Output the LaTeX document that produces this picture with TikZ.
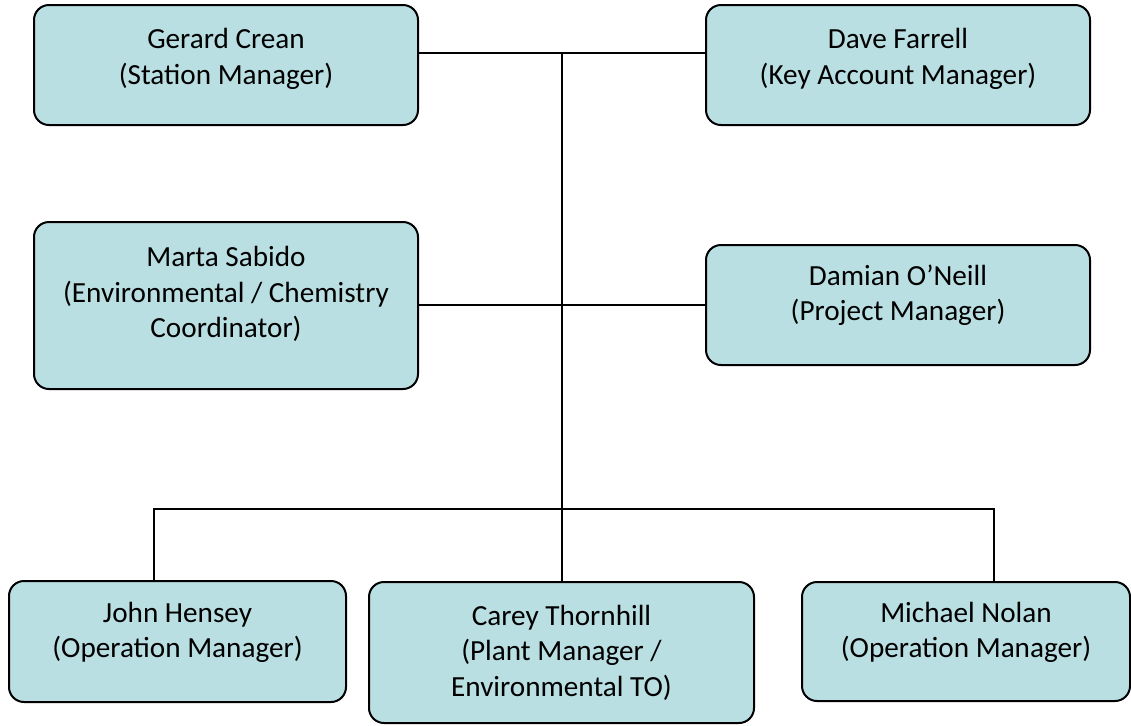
\documentclass[tikz,border=0pt]{standalone}
\usepackage{fontspec}
\setmainfont{Carlito}
\usetikzlibrary{positioning}
\definecolor{boxfill}{HTML}{B9DFE3}
\tikzset{
  person/.style={draw=black, line width=1pt, fill=boxfill, rounded corners=7.5pt,
    align=center, inner sep=0pt, font=\fontsize{14.6}{17.75}\selectfont},
  lift/.style={text depth=#1},
  link/.style={line width=1pt}
}
\begin{document}
\begin{tikzpicture}[x=0.5pt, y=-0.5pt]
        \useasboundingbox (0,0) rectangle (1131,725);

        % top row
        \node[person, lift=8.5pt, minimum width=192pt, minimum height=60pt] (gerard) at (226,65) {Gerard Crean\\(Station Manager)};
        \node[person, lift=8.5pt, minimum width=192pt, minimum height=60pt] (dave) at (898,65) {Dave Farrell\\(Key Account Manager)};

        % middle row
        \node[person, lift=13.5pt, minimum width=192pt, minimum height=83.5pt] (marta) at (226,305.5) {Marta Sabido\\(Environmental / Chemistry\\Coordinator)};
        \node[person, lift=12.5pt, minimum width=192pt, minimum height=60pt] (damian) at (898,305) {Damian O’Neill\\(Project Manager)};

        % bottom row
        \node[person, lift=11.5pt, minimum width=168.5pt, minimum height=60.5pt] (john) at (177.5,641.5) {John Hensey\\(Operation Manager)};
        \node[person, minimum width=192.5pt, minimum height=70.5pt] (carey) at (561.5,652.5) {Carey Thornhill\\(Plant Manager /\\Environmental TO)};
        \node[person, lift=11.5pt, minimum width=164pt, minimum height=59.5pt] (michael) at (966,641.5) {Michael Nolan\\(Operation Manager)};

        \coordinate (top) at (562,53);
        \coordinate (mid) at (562,305);
        \coordinate (jtap) at (154,509);
        \coordinate (mtap) at (994,509);

        \draw[link] (gerard.east |- top) -- (dave.west |- top);
        \draw[link] (marta.east |- mid) -- (damian.west |- mid);
        \draw[link] (top) -- (top |- carey.north);
        \draw[link] (john.north -| jtap) -- (jtap) -- (mtap) -- (michael.north -| mtap);
    \end{tikzpicture}
\end{document}
